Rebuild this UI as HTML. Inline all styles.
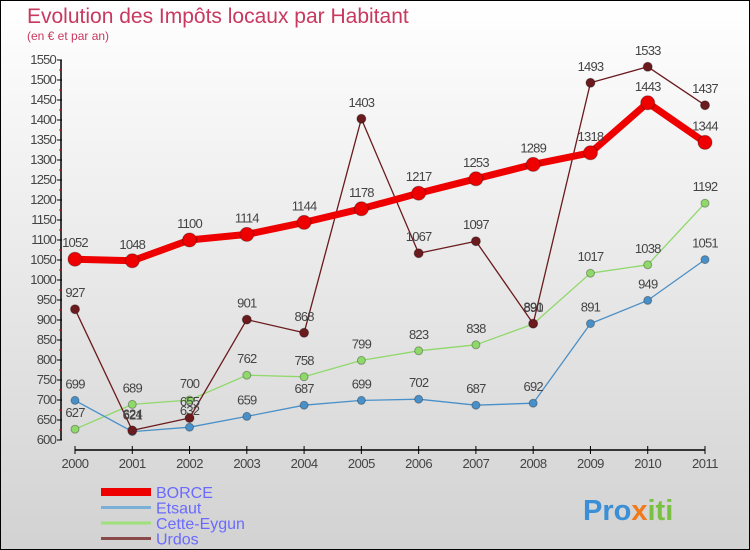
<!DOCTYPE html>
<html><head><meta charset="utf-8"><style>
body{margin:0}
#c{width:750px;height:550px;position:relative;box-sizing:border-box;border:1px solid #000;background:linear-gradient(#ffffff,#d2d2d2);font-family:"Liberation Sans",sans-serif}
</style></head><body>
<div id="c">
<svg id="s" width="748" height="548" xmlns="http://www.w3.org/2000/svg" style="position:absolute;left:0;top:0">
<text x="26" y="22" font-size="21" fill="#c8385f">Evolution des Impôts locaux par Habitant</text>
<text x="26" y="39" font-size="12" fill="#c8385f">(en € et par an)</text>
<g id="g"></g>
<text x="582" y="519" font-size="29" font-weight="bold" fill="#3a8fd6">Pro<tspan fill="#f07a1a">x</tspan><tspan fill="#7ac143">iti</tspan></text>
</svg>
</div>
<script>
const years=["2000","2001","2002","2003","2004","2005","2006","2007","2008","2009","2010","2011"];
const borce=[1052,1048,1100,1114,1144,1178,1217,1253,1289,1318,1443,1344];
const etsaut=[699,621,632,659,687,699,702,687,692,891,949,1051];
const cette=[627,689,700,762,758,799,823,838,890,1017,1038,1192];
const urdos=[927,624,655,901,868,1403,1067,1097,891,1493,1533,1437];
const yTicks=[600,650,700,750,800,850,900,950,1000,1050,1100,1150,1200,1250,1300,1350,1400,1450,1500,1550];
const NS="http://www.w3.org/2000/svg";
const g=document.getElementById('g');
const X=i=>74+i*(630/(years.length-1));
const Y=v=>439-(v-600)*0.4;
function el(t,a,p){const e=document.createElementNS(NS,t);for(const k in a)e.setAttribute(k,a[k]);(p||g).appendChild(e);return e;}
let ax=el('line',{x1:60,y1:Y(1550),x2:60,y2:Y(600),stroke:'#000','stroke-width':1.5});


yTicks.forEach((v,i)=>{
 el('line',{x1:56,x2:61,y1:Y(v),y2:Y(v),stroke:'#000'});
 if(i<yTicks.length-1) el('line',{x1:58,x2:61,y1:Y(v+25),y2:Y(v+25),stroke:'#e00'});
 const t=el('text',{x:55,y:Y(v)+4,'font-size':13,'text-anchor':'end',fill:'#444','letter-spacing':'-0.8'});
 
 
 t.textContent=v;
});
let xa=el('line',{x1:X(0),y1:449,x2:X(11),y2:449,stroke:'#000','stroke-width':1.5});


years.forEach((y,i)=>{
 el('line',{x1:X(i),x2:X(i),y1:445,y2:453,stroke:'#000'});
 const t=el('text',{x:X(i),y:467,'font-size':13,'text-anchor':'middle',fill:'#444','letter-spacing':'-0.5'});
 
 
 t.textContent=y;
});
function series(data,color,w,r,name){
 const grp=el('g',{});
 
 
 el('polyline',{points:data.map((v,i)=>X(i)+','+Y(v)).join(' '),fill:'none',stroke:color,'stroke-width':w,'stroke-linejoin':'round'},grp);
 data.forEach((v,i)=>{
  const c=el('circle',{cx:X(i),cy:Y(v),r:r,fill:color,stroke:'rgba(0,0,0,0.3)','stroke-width':1},grp);
  
  
  const t=el('text',{x:X(i),y:Y(v)-12,'font-size':13,'text-anchor':'middle',fill:'#444','letter-spacing':'-0.8'},grp);
  
  
  t.textContent=v;
 });
}
series(cette,'#8fd86a',1.3,4,'cette-eygun');
series(etsaut,'#4a90c8',1.3,4,'etsaut');
series(urdos,'#6b1a1e',1.3,4.5,'urdos');
series(borce,'#ee0000',7,7,'borce');
const leg=[['BORCE','#ee0000',8],['Etsaut','#7aafd8',3],['Cette-Eygun','#9ee07a',3],['Urdos','#8b4a4a',3]];
leg.forEach((l,i)=>{
 const yy=491+i*15.5;
 const e=el('line',{x1:100,x2:150,y1:yy,y2:yy,stroke:l[1],'stroke-width':l[2]});
 
 
 const t=el('text',{x:155,y:yy+6,'font-size':16,fill:'#6a6aff'});
 
 
 t.textContent=l[0];
});
</script>
</body></html>
